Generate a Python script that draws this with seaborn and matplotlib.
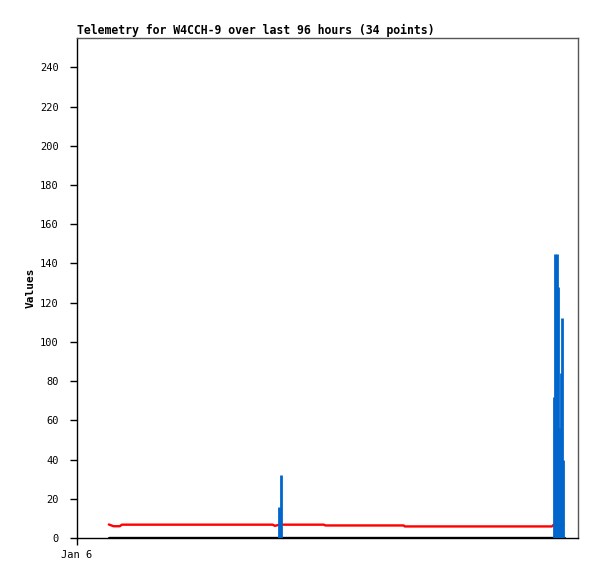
import numpy as np
import pandas as pd
import matplotlib
matplotlib.use("Agg")
import matplotlib.pyplot as plt
import seaborn as sns

# time of each sample, hours since Jan 6 00:00
hours = [6.1, 7.0, 8.2, 8.6, 12.0, 18.0, 24.0, 30.0, 37.5, 37.9,
         38.8, 39.0, 42.0, 47.3, 47.6, 52.0, 58.0, 62.6, 62.8, 68.0,
         74.0, 80.0, 86.0, 90.0, 91.0, 91.4, 91.68, 91.97, 92.16, 92.35,
         92.74, 92.93, 93.22, 93.3]

# red trace
red_vals = [6.9, 6.0, 6.0, 6.8, 6.8, 6.8, 6.8, 6.8, 6.8, 6.2,
            6.8, 6.8, 6.8, 6.8, 6.4, 6.4, 6.4, 6.4, 5.9, 5.9,
            5.9, 5.9, 5.9, 5.9, 5.9, 6.9, 6.9, 6.9, 6.9, 6.9,
            6.9, 6.9, 6.9, np.nan]

# blue impulses
blue_vals = [0, 0, 0, 0, 0, 0, 0, 0, 0, 0,
             16, 32, 0, 0, 0, 0, 0, 0, 0, 0,
             0, 0, 0, 0, 0, 72, 145, 145, 128, 56,
             84, 112, 40, 0]

# black baseline trace
black_vals = [0] * len(hours)

df = pd.DataFrame({"hours": hours, "red": red_vals,
                   "blue": blue_vals, "black": black_vals})

sns.set_style("white")
plt.rcParams["font.family"] = ["DejaVu Sans Mono", "DejaVu Sans"]
plt.rcParams["text.color"] = "black"
plt.rcParams["axes.labelcolor"] = "black"

fig = plt.figure(figsize=(5.97, 5.79), dpi=100)
ax = fig.add_axes([77 / 597, 1 - 538 / 579, 501 / 597, 500 / 579])

sns.lineplot(data=df, x="hours", y="black", color="black", lw=2.4,
             estimator=None, sort=False, ax=ax, zorder=2)
sns.lineplot(data=df, x="hours", y="red", color="#ff0000", lw=1.7,
             estimator=None, sort=False, ax=ax, zorder=3)
# impulses
imp = df[df["blue"] > 0]
ax.vlines(imp["hours"], 0, imp["blue"], color="#0066cc", lw=2.0, zorder=4)

ax.set_xlim(0, 96)
ax.set_ylim(0, 255)
ax.set_yticks(range(0, 241, 20))
ax.set_xticks([0])
ax.set_xticklabels(["Jan 6"])
ax.tick_params(axis="both", direction="out", length=5, width=1,
               labelsize=7.5, colors="black", left=True, bottom=True)
ax.tick_params(axis="y", pad=8)

for side in ["top", "right"]:
    ax.spines[side].set_color("#555555")
    ax.spines[side].set_linewidth(1)
for side in ["left", "bottom"]:
    ax.spines[side].set_color("black")
    ax.spines[side].set_linewidth(1)

ax.set_xlabel("")
ax.set_ylabel("Values", fontsize=8, fontweight="bold", labelpad=3)
ax.set_title("Telemetry for W4CCH-9 over last 96 hours (34 points)",
             loc="left", fontsize=8.3, fontweight="bold", pad=3,
             color="black")

fig.savefig("out.png", dpi=100)
